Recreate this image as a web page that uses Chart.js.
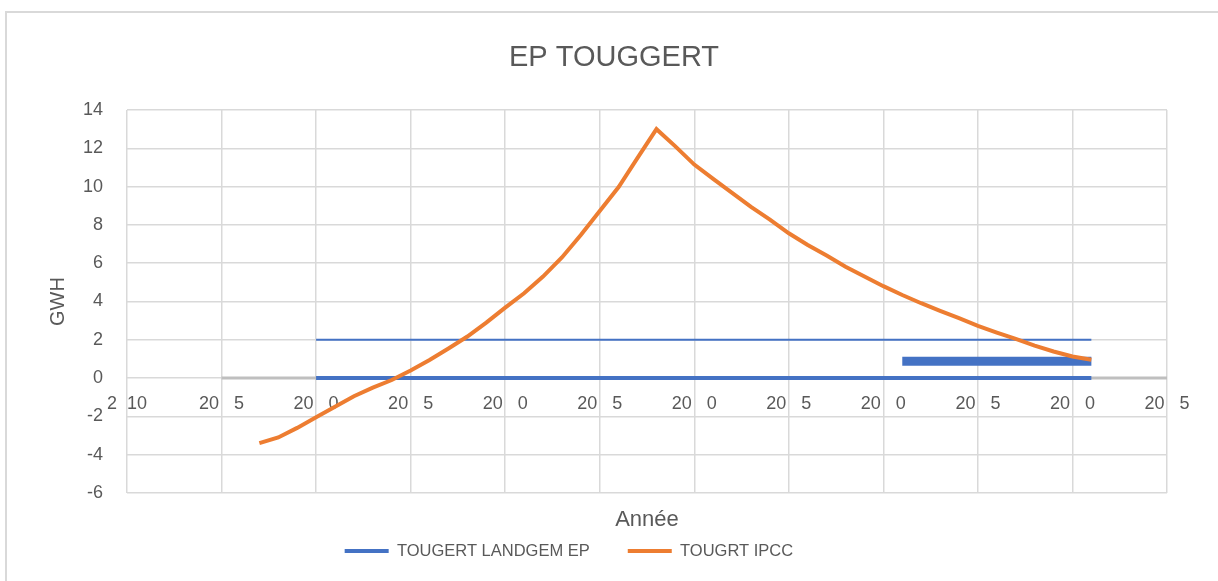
<!DOCTYPE html>
<html>
<head>
<meta charset="utf-8">
<script src="https://cdn.jsdelivr.net/npm/chart.js@4.4.0/dist/chart.umd.min.js"></script>
<style>
  body { margin: 0; background: #fff; overflow: hidden; }
  #frame { position: absolute; left: 5px; top: 11px; width: 1240px; height: 600px; border: 2px solid #d9d9d9; }
  #myChart { position: absolute; left: 0; top: 0; }
</style>
</head>
<body>
<div id="frame"></div>
<canvas id="myChart" width="1218" height="581"></canvas>
<script>
const ipccYears = [2017, 2018, 2019, 2020, 2021, 2022, 2023, 2024, 2025, 2026,
  2027, 2028, 2029, 2030, 2031, 2032, 2033, 2034, 2035, 2036,
  2037, 2038, 2039, 2040, 2041, 2042, 2043, 2044, 2045, 2046,
  2047, 2048, 2049, 2050, 2051, 2052, 2053, 2054, 2055, 2056,
  2057, 2058, 2059, 2060, 2061];
const ipccValues = [-3.4, -3.1, -2.6, -2.05, -1.5, -0.95, -0.5, -0.1, 0.4, 0.95,
  1.55, 2.17, 2.9, 3.68, 4.43, 5.3, 6.3, 7.47, 8.73, 9.98,
  11.5, 13.0, 12.1, 11.15, 10.4, 9.67, 8.94, 8.28, 7.56, 6.95,
  6.4, 5.82, 5.3, 4.8, 4.34, 3.91, 3.51, 3.13, 2.73, 2.38,
  2.05, 1.7, 1.39, 1.13, 0.96];

const landgemYears = [2020, 2061];
const landgemValues = [0, 0];
const landgemTopValues = [2, 2];
const landgemBlockYears = [2051, 2061];
const landgemBlockValues = [0.88, 0.88];

const baseYears = [2015, 2065];
const baseValues = [0, 0];

const tickYears = [2010, 2015, 2020, 2025, 2030, 2035, 2040, 2045, 2050, 2055, 2060, 2065];
const tickLabels = ["2  10", "20   5", "20   0", "20   5", "20   0", "20   5",
  "20   0", "20   5", "20   0", "20   5", "20   0", "20   5"];

const blue = "#4472C4";
const orange = "#ED7D31";
const gridColor = "#D9D9D9";
const font = "'Liberation Sans', Arial, sans-serif";

Chart.defaults.color = "#595959";
Chart.defaults.font.family = font;

const toPoints = (xs, ys) => xs.map((x, i) => ({ x: x, y: ys[i] }));

const datasets = [
  {
    label: "TOUGERT LANDGEM EP",
    data: toPoints(landgemYears, landgemValues),
    borderColor: blue,
    backgroundColor: blue,
    borderWidth: 4,
    order: 1,
  },
  {
    label: "TOUGRT IPCC",
    data: toPoints(ipccYears, ipccValues),
    borderColor: orange,
    backgroundColor: orange,
    borderWidth: 4,
    order: 0,
  },
  {
    label: "",
    data: toPoints(landgemYears, landgemTopValues),
    borderColor: blue,
    borderWidth: 2,
    order: 1,
  },
  {
    label: "",
    data: toPoints(landgemBlockYears, landgemBlockValues),
    borderColor: blue,
    borderWidth: 9,
    borderCapStyle: "butt",
    order: 1,
  },
  {
    label: "",
    data: toPoints(baseYears, baseValues),
    borderColor: "#BFBFBF",
    borderWidth: 3,
    order: 2,
  },
];

// the base line dataset keeps an empty, invisible legend slot so the two real
// entries sit a bit left of centre, as in the original
const legendLabels = (chart) => Chart.defaults.plugins.legend.labels.generateLabels(chart)
  .map((item) => item.datasetIndex === 4
    ? { ...item, text: "", fillStyle: "rgba(0,0,0,0)", strokeStyle: "rgba(0,0,0,0)", lineWidth: 0 }
    : { ...item, lineWidth: 0 });

const ctx = document.getElementById("myChart");
new Chart(ctx, {
  type: "line",
  data: { datasets: datasets },
  options: {
    responsive: false,
    animation: false,
    elements: { point: { radius: 0 }, line: { tension: 0 } },
    layout: { padding: { left: 10, right: 0, top: 0, bottom: 11.75 } },
    plugins: {
      title: {
        display: true,
        text: "EP TOUGGERT",
        font: { size: 29, weight: "normal" },
        padding: { top: 40.6, bottom: 34.6 },
      },
      legend: {
        position: "bottom",
        labels: {
          font: { size: 16.5 },
          boxWidth: 44,
          boxHeight: 4,
          padding: 38,
          filter: (item) => item.datasetIndex !== 2 && item.datasetIndex !== 3,
          sort: (a, b) => a.datasetIndex - b.datasetIndex,
          generateLabels: legendLabels,
        },
      },
      tooltip: { enabled: false },
    },
    scales: {
      x: {
        type: "linear",
        min: 2010,
        max: 2065,
        position: { y: 0 },
        border: { display: false },
        grid: { color: gridColor, lineWidth: 1.5, drawTicks: false },
        ticks: {
          stepSize: 5,
          autoSkip: false,
          maxRotation: 0,
          padding: 15,
          font: { size: 18 },
          callback: (value) => tickLabels[tickYears.indexOf(value)],
        },
      },
      x2: {
        type: "linear",
        min: 2010,
        max: 2065,
        position: "bottom",
        border: { display: false },
        grid: { display: false },
        ticks: { display: false },
        title: {
          display: true,
          text: "Année",
          font: { size: 22 },
          padding: { top: 0, bottom: -28.45 },
        },
        afterFit: (scale) => { scale.height = 11.75; },
      },
      y: {
        min: -6,
        max: 14,
        border: { display: false },
        grid: { color: gridColor, lineWidth: 1.5, drawTicks: false },
        ticks: {
          stepSize: 2,
          padding: 24,
          font: { size: 18 },
        },
        title: {
          display: true,
          text: "GWH",
          font: { size: 20 },
          padding: { top: 36, bottom: 0 },
        },
        afterFit: (scale) => { scale.width = 117; },
      },
      y2: {
        type: "linear",
        min: 0,
        max: 1,
        position: "right",
        border: { display: false },
        grid: { display: false },
        ticks: { display: false },
        afterFit: (scale) => { scale.width = 51; },
      },
    },
  },
});
</script>
</body>
</html>
